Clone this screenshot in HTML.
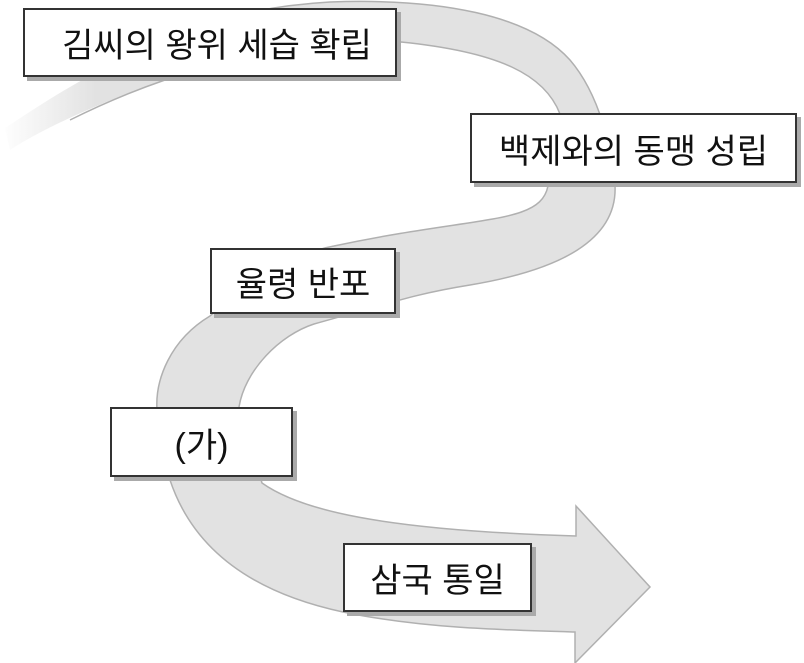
<!DOCTYPE html>
<html><head><meta charset="utf-8"><style>
body{margin:0;width:804px;height:663px;background:#fff;position:relative;overflow:hidden;font-family:"Liberation Sans","Noto Sans CJK KR",sans-serif}
.b{position:absolute;background:#fff;border:2px solid #333;box-sizing:border-box;box-shadow:4px 4px 0 #aaa;display:flex;align-items:center;justify-content:center;font-size:34px;color:#111}
</style></head><body>
<svg width="804" height="663" style="position:absolute;left:0;top:0">
<defs><linearGradient id="g" gradientUnits="userSpaceOnUse" x1="0" y1="0" x2="120" y2="0"><stop offset="0" stop-color="#fff"/><stop offset="0.8" stop-color="#e2e2e2"/><stop offset="1" stop-color="#e2e2e2"/></linearGradient></defs>
<path d="M5,128 C40,105 70,85 120,60 C200,20 260,6 330,2 C440,-2 530,15 570,60 C600,95 612,150 615,185 C618,240 560,270 470,285 C420,293 400,300 314,324 C280,335 245,370 239,407 L262,483 C300,510 380,530 576,536 L576,506 L650,587 L575,663 L575,632 C500,630 420,628 343,612 C240,590 190,540 170,480 L157,410 C155,380 170,340 210,316 C250,280 300,252 334,246 C480,215 540,225 548,186 L560,114 C545,75 500,52 401,42 C300,45 220,62 165,80 C100,102 40,130 10,150 Z" fill="url(#g)" stroke="url(#g)" stroke-width="0"/>
<path d="M120,60 C200,20 260,6 330,2 C440,-2 530,15 570,60 C600,95 612,150 615,185 C618,240 560,270 470,285 C420,293 400,300 314,324 C280,335 245,370 239,407 L262,483 C300,510 380,530 576,536 L576,506 L650,587 L575,663 L575,632 C500,630 420,628 343,612 C240,590 190,540 170,480 L157,410 C155,380 170,340 210,316 C250,280 300,252 334,246 C480,215 540,225 548,186 L560,114 C545,75 500,52 401,42 C300,45 220,62 165,80 C130,92 100,105 70,120" fill="none" stroke="#b0b0b0" stroke-width="1.5"/>
</svg>
<div class="b" style="left:23px;top:8px;width:374px;height:69px;padding-left:14px">김씨의 왕위 세습 확립</div>
<div class="b" style="left:470px;top:113px;width:327px;height:70px">백제와의 동맹 성립</div>
<div class="b" style="left:210px;top:248px;width:186px;height:66px">율령 반포</div>
<div class="b" style="left:110px;top:407px;width:183px;height:70px">(가)</div>
<div class="b" style="left:343px;top:543px;width:189px;height:69px">삼국 통일</div>
</body></html>
